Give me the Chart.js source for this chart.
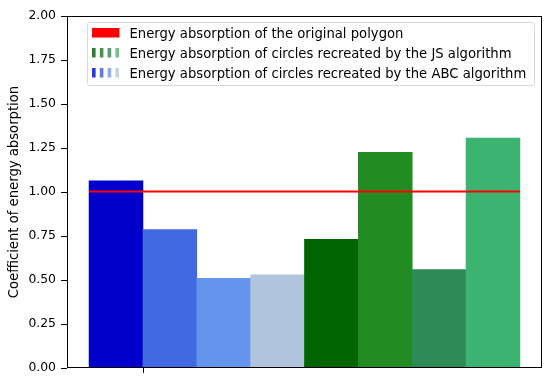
<!DOCTYPE html>
<html>
<head>
<meta charset="utf-8">
<script src="https://cdn.jsdelivr.net/npm/chart.js@4/dist/chart.umd.min.js"></script>
<style>
  html, body { margin: 0; padding: 0; background: #fff; }
  #wrap { width: 550px; height: 382px; }
</style>
</head>
<body>
<div id="wrap"><canvas id="chart" width="550" height="382"></canvas></div>
<script>
// bar values (ABC blues, then JS greens)
var barPositions = [0, 1, 2, 3, 4, 5, 6, 7];
var barValues = [1.064, 0.786, 0.51, 0.53, 0.731, 1.225, 0.559, 1.307];
var barColors = ['#0000cd', '#4169e1', '#6495ed', '#b0c4de', '#006400', '#228b22', '#2e8b57', '#3cb371'];
var originalValue = 1.003;
var yTicks = [0, 0.25, 0.5, 0.75, 1.0, 1.25, 1.5, 1.75, 2.0];
var xTicks = [0.5];
var legendLabels = [
  'Energy absorption of the original polygon',
  'Energy absorption of circles recreated by the JS algorithm',
  'Energy absorption of circles recreated by the ABC algorithm'
];
var legendSwatches = [
  ['#ff0000'],
  ['#2e7d32', '#3f9a3f', '#4f9f6f', '#6cc58f'],
  ['#2a36e0', '#5a7ee6', '#8aaef0', '#c4d2e8']
];

var FONT = 'DejaVu Sans';

var framePlugin = {
  id: 'frame',
  afterDraw: function (chart) {
    var ctx = chart.ctx, a = chart.chartArea;
    ctx.save();
    ctx.strokeStyle = '#000';
    ctx.lineWidth = 1;
    ctx.strokeRect(Math.round(a.left) + 0.5, Math.round(a.top) + 0.5,
      Math.round(a.right - a.left) - 1, Math.round(a.bottom - a.top) - 1);

    // x tick marks below the frame
    ctx.beginPath();
    xTicks.forEach(function (v) {
      var px = Math.round(chart.scales.x.getPixelForValue(v)) + 0.5;
      ctx.moveTo(px, a.bottom);
      ctx.lineTo(px, a.bottom + 5);
    });
    ctx.stroke();

    // legend box in the upper left of the plot area
    var bx = 87.5, by = 22.5, bw = 447, bh = 63;
    ctx.fillStyle = 'rgba(255,255,255,0.8)';
    ctx.strokeStyle = '#d9d9d9';
    ctx.beginPath();
    if (ctx.roundRect) ctx.roundRect(bx, by, bw, bh, 2); else ctx.rect(bx, by, bw, bh);
    ctx.fill();
    ctx.stroke();

    ctx.font = '13.2px "' + FONT + '"';
    ctx.textBaseline = 'middle';
    for (var i = 0; i < legendLabels.length; i++) {
      var cy = 33 + i * 20;
      var sw = legendSwatches[i];
      if (sw.length === 1) {
        ctx.fillStyle = sw[0];
        ctx.fillRect(92, cy - 5, 27.5, 9.5);
      } else {
        for (var j = 0; j < sw.length; j++) {
          ctx.fillStyle = sw[j];
          ctx.fillRect(92 + j * 7.8, cy - 5, 3.6, 9.5);
        }
      }
      ctx.fillStyle = '#000';
      ctx.fillText(legendLabels[i], 129.5, cy + 1.5);
    }
    ctx.restore();
  }
};

var ctx = document.getElementById('chart').getContext('2d');
new Chart(ctx, {
  data: {
    datasets: [{
      type: 'bar',
      data: barPositions.map(function (x, i) { return { x: x, y: barValues[i] }; }),
      backgroundColor: barColors,
      borderWidth: 0,
      barPercentage: 1.0,
      categoryPercentage: 1.0,
      order: 2
    }, {
      type: 'line',
      data: [{ x: -0.5, y: originalValue }, { x: 7.5, y: originalValue }],
      borderColor: '#ff0000',
      borderWidth: 2,
      pointRadius: 0,
      fill: false,
      order: 1
    }]
  },
  options: {
    responsive: false,
    animation: false,
    layout: { padding: { top: 16, right: 8, left: 0, bottom: 0 } },
    plugins: {
      legend: { display: false },
      tooltip: { enabled: false }
    },
    scales: {
      x: {
        type: 'linear',
        offset: false,
        min: -0.91,
        max: 7.91,
        afterBuildTicks: function (scale) { scale.ticks = xTicks.map(function (v) { return { value: v }; }); },
        afterFit: function (scale) { scale.height = 14; },
        ticks: { callback: function () { return ''; } },
        grid: { display: false },
        border: { display: false }
      },
      y: {
        min: 0,
        max: 2,
        afterBuildTicks: function (scale) { scale.ticks = yTicks.map(function (v) { return { value: v }; }); },
        afterFit: function (scale) { scale.width = 67; },
        ticks: {
          color: '#000',
          padding: 5,
          font: { family: FONT, size: 12.4 },
          callback: function (v) { return Number(v).toFixed(2); }
        },
        grid: { drawOnChartArea: false, tickLength: 6, color: '#000', tickColor: '#000' },
        border: { display: false },
        title: {
          display: true,
          text: 'Coefficient of energy absorption',
          color: '#000',
          font: { family: FONT, size: 13.2 },
          padding: { top: 7, bottom: 0 }
        }
      }
    }
  },
  plugins: [framePlugin]
});
</script>
</body>
</html>
